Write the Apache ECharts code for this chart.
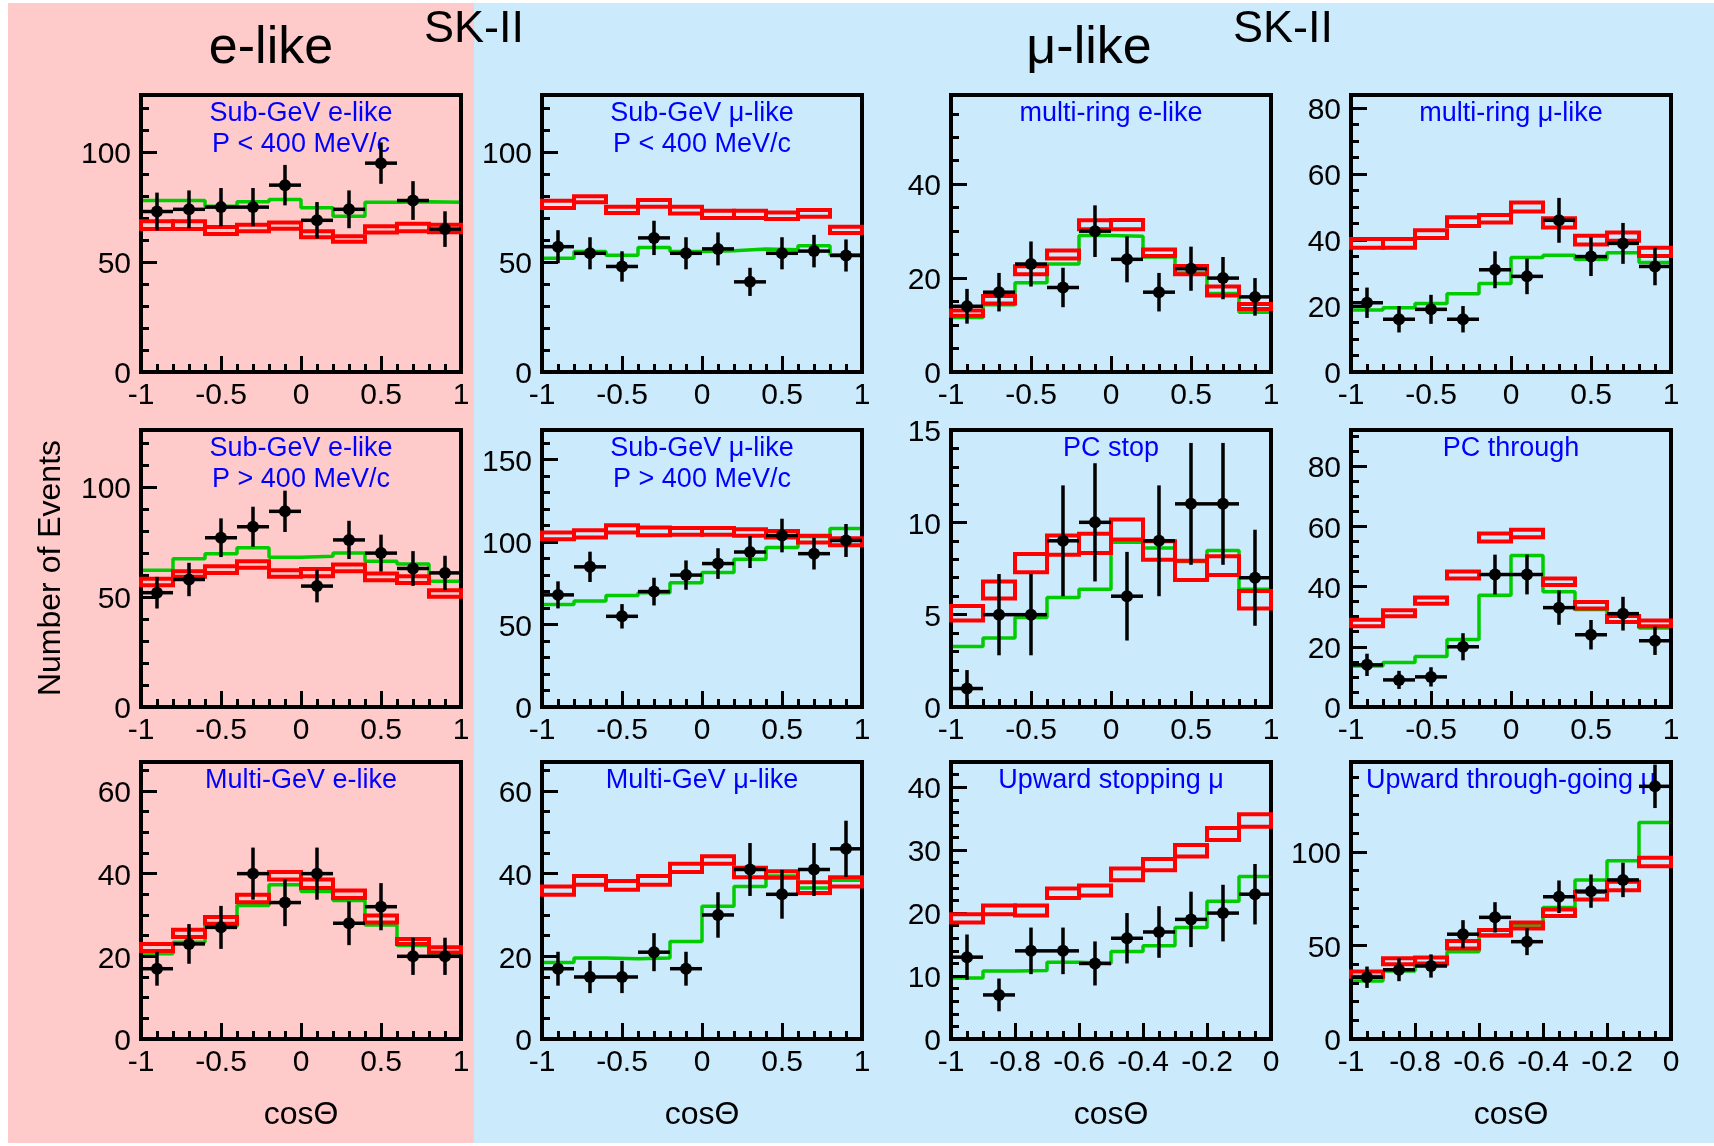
<!DOCTYPE html>
<html><head><meta charset="utf-8">
<script src="https://cdn.jsdelivr.net/npm/echarts@6/dist/echarts.min.js"></script>
<style>html,body{margin:0;padding:0;background:#fff}#c{width:1714px;height:1146px}</style>
</head><body><div id="c"></div>
<script>
// ---------- bins ----------
const edgesFull = [-1, -0.8, -0.6, -0.4, -0.2, 0, 0.2, 0.4, 0.6, 0.8, 1];
const centersFull = [-0.9, -0.7, -0.5, -0.3, -0.1, 0.1, 0.3, 0.5, 0.7, 0.9];
const edgesUp = [-1, -0.9, -0.8, -0.7, -0.6, -0.5, -0.4, -0.3, -0.2, -0.1, 0];
const centersUp = [-0.95, -0.85, -0.75, -0.65, -0.55, -0.45, -0.35, -0.25, -0.15, -0.05];

// ---------- Sub-GeV e-like P<400 ----------
const sgeLowData = [73, 74, 75, 75, 85, 69, 74, 95, 78, 65];
const sgeLowErr  = [8.6, 8.6, 8.7, 8.7, 9.2, 8.3, 8.6, 9.4, 8.8, 8.1];
const sgeLowFit  = [78, 78, 75.4, 77.4, 78.5, 74.7, 70.9, 77.2, 77.4, 77.2];
const sgeLowHi   = [68.6, 68.6, 65.9, 67, 68, 64, 61.8, 66.3, 67.4, 67];
const sgeLowLo   = [65.1, 65.1, 62.8, 64, 65.2, 61.3, 59.2, 63.4, 64, 63.6];
// ---------- Sub-GeV mu-like P<400 ----------
const sgmLowData = [57, 54, 48, 61, 54, 56, 41, 54, 55, 53];
const sgmLowErr  = [7.5, 7.3, 6.9, 7.8, 7.3, 7.5, 6.4, 7.3, 7.4, 7.3];
const sgmLowFit  = [51.7, 54.8, 53.1, 56.6, 54.8, 55.1, 55.9, 55.6, 57.4, 53.3];
const sgmLowHi   = [77.9, 79.9, 75.2, 78.2, 75.2, 73.4, 73.4, 72.6, 73.7, 66.1];
const sgmLowLo   = [74.6, 77.2, 72.3, 75.2, 72.1, 70, 70, 69.6, 70.6, 63.2];
// ---------- multi-ring e-like ----------
const mreData = [14, 17, 23, 18, 30, 24, 17, 22, 20, 16];
const mreErr  = [3.7, 4.1, 4.8, 4.2, 5.5, 4.9, 4.1, 4.7, 4.5, 4.0];
const mreFit  = [11.6, 14.3, 19, 23, 29.1, 28.9, 24.5, 21.1, 16.7, 12.7];
const mreHi   = [13.1, 16.2, 22.5, 25.9, 32.3, 32.4, 26.1, 22.6, 18.2, 14.5];
const mreLo   = [12.0, 14.6, 20.8, 24.2, 30.4, 30.4, 24.7, 20.8, 16.3, 13.4];
// ---------- multi-ring mu-like ----------
const mrmData = [21, 16, 19, 16, 31, 29, 46, 35, 39, 32];
const mrmErr  = [4.6, 4.0, 4.4, 4.0, 5.6, 5.4, 6.8, 5.9, 6.2, 5.7];
const mrmFit  = [18.8, 19.5, 20.8, 23.7, 26.8, 34.7, 35.4, 34.2, 36.2, 33.2];
const mrmHi   = [40.3, 40.3, 43, 46.9, 47.6, 51.4, 46.6, 41.3, 42.3, 37.7];
const mrmLo   = [37.7, 37.7, 40.6, 44.3, 45.3, 48.7, 43.8, 38.7, 39.8, 35.2];
// ---------- Sub-GeV e-like P>400 ----------
const sgeHighData = [52, 58, 77, 82, 89, 55, 76, 70, 63, 61];
const sgeHighErr  = [7.2, 7.6, 8.8, 9.1, 9.4, 7.4, 8.7, 8.4, 7.9, 7.8];
const sgeHighFit  = [62.2, 67.4, 69.7, 72.4, 68.1, 68.6, 70.1, 66.3, 65.1, 57.2];
const sgeHighHi   = [58.3, 61.8, 64, 66.3, 62.2, 62.8, 64.8, 60.7, 59.5, 53.1];
const sgeHighLo   = [55.4, 59.2, 61, 63.3, 59.2, 59.5, 61.8, 57.7, 56.4, 50.1];
// ---------- Sub-GeV mu-like P>400 ----------
const sgmHighData = [68, 85, 55, 70, 80, 87, 94, 104, 93, 101];
const sgmHighErr  = [8.2, 9.2, 7.4, 8.4, 8.9, 9.3, 9.7, 10.2, 9.6, 10.0];
const sgmHighFit  = [62.2, 64.3, 67.7, 69.3, 75.4, 81.5, 89.6, 96.7, 103.4, 108.3];
const sgmHighHi   = [105.8, 107.2, 110.3, 108.9, 108.5, 108.5, 107.8, 106.8, 103.8, 102.4];
const sgmHighLo   = [101.8, 102.8, 105.8, 104.2, 104.4, 104.4, 103.8, 102.8, 99.7, 98.1];
// ---------- PC stop ----------
const pcsData = [1, 5, 5, 9, 10, 6, 9, 11, 11, 7];
const pcsErr  = [1, 2.2, 2.2, 3, 3.2, 2.4, 3, 3.3, 3.3, 2.6];
const pcsFit  = [3.27, 3.74, 4.84, 5.93, 6.37, 8.92, 8.61, 7.88, 8.47, 6.37];
const pcsHi   = [5.47, 6.79, 8.28, 9.29, 9.38, 10.16, 8.98, 7.92, 8.16, 6.28];
const pcsLo   = [4.69, 5.88, 7.30, 8.25, 8.34, 9.07, 7.97, 6.88, 7.15, 5.33];
// ---------- PC through ----------
const pctData = [14, 9, 10, 20, 44, 44, 33, 24, 31, 22];
const pctErr  = [3.7, 3, 3.2, 4.5, 6.6, 6.6, 5.7, 4.9, 5.6, 4.7];
const pctFit  = [13.6, 14.8, 16.8, 22.4, 37.1, 50.3, 38.3, 32.4, 28.2, 26.2];
const pctHi   = [29, 32.1, 36.4, 45, 57.6, 58.9, 42.7, 34.9, 30.2, 28.7];
const pctLo   = [26.8, 30.1, 34.3, 42.7, 55, 56.4, 40.5, 32.7, 28.2, 26.8];
// ---------- Multi-GeV e-like ----------
const mgeData = [17, 23, 27, 40, 33, 40, 28, 32, 20, 20];
const mgeErr  = [4.1, 4.8, 5.2, 6.3, 5.7, 6.3, 5.3, 5.7, 4.5, 4.5];
const mgeFit  = [20.6, 23.4, 27.2, 32.3, 37.3, 35.7, 33.5, 27.6, 22.6, 20.6];
const mgeHi   = [23, 26.4, 29.5, 34.9, 40.4, 38.6, 35.9, 29.9, 24.2, 22.2];
const mgeLo   = [21.3, 24.7, 27.9, 33.1, 38.6, 36.5, 34.1, 28.2, 23, 20.9];
// ---------- Multi-GeV mu-like ----------
const mgmData = [17, 15, 15, 21, 17, 30, 41, 35, 41, 46];
const mgmErr  = [4.1, 3.9, 3.9, 4.6, 4.1, 5.5, 6.4, 5.9, 6.4, 6.8];
const mgmFit  = [18.5, 19.6, 19.4, 19.6, 23.6, 32.1, 36.9, 39.4, 36.5, 38.4];
const mgmHi   = [36.9, 39.4, 38.2, 39.4, 42.4, 44.2, 41.4, 40.6, 37.9, 39.1];
const mgmLo   = [34.9, 37.3, 36.1, 37.3, 40.4, 42.4, 39.1, 39, 35.3, 36.9];
// ---------- Upward stopping mu ----------
const usmData = [13, 7, 14, 14, 12, 16, 17, 19, 20, 23];
const usmErr  = [3.6, 2.6, 3.7, 3.7, 3.5, 4, 4.1, 4.4, 4.5, 4.8];
const usmFit  = [9.7, 10.8, 10.9, 12.2, 12, 13.9, 14.8, 17.7, 21.9, 25.8];
const usmHi   = [19.8, 21.2, 21.2, 23.9, 24.4, 27.1, 28.6, 30.8, 33.5, 35.7];
const usmLo   = [18.5, 19.8, 19.6, 22.4, 22.8, 25.2, 26.8, 29, 31.6, 33.7];
// ---------- Upward through-going mu ----------
const utmData = [33, 37, 39, 56, 65, 52, 76, 79, 85, 135];
const utmErr  = [5.7, 6.1, 6.2, 7.5, 8.1, 7.2, 8.7, 8.9, 9.2, 11.6];
const utmFit  = [31, 36.3, 39.5, 46.6, 55, 60.9, 70.3, 84.9, 95.2, 115.7];
const utmHi   = [36, 43.1, 43.6, 52.3, 58.2, 62.3, 69.2, 78.6, 84, 96.8];
const utmLo   = [33.3, 40, 40.4, 48.4, 55.5, 59.1, 65.7, 74.6, 79.5, 92.3];

// ---------- panel definitions (reading order) ----------
const panelTitles = [
  ['Sub-GeV e-like', 'P < 400 MeV/c'], ['Sub-GeV \u03bc-like', 'P < 400 MeV/c'], ['multi-ring e-like'], ['multi-ring \u03bc-like'],
  ['Sub-GeV e-like', 'P > 400 MeV/c'], ['Sub-GeV \u03bc-like', 'P > 400 MeV/c'], ['PC stop'], ['PC through'],
  ['Multi-GeV e-like'], ['Multi-GeV \u03bc-like'], ['Upward stopping \u03bc'], ['Upward through-going \u03bc']
];
const yMax      = [126, 126, 59, 84, 126, 168, 15, 92, 67, 67, 44, 148];
const yInterval = [50, 50, 20, 20, 50, 50, 5, 20, 20, 20, 10, 50];
const yMinorSplit = [5, 5, 4, 4, 5, 5, 5, 4, 4, 4, 5, 5];
const panelSets = [
  [sgeLowData, sgeLowErr, sgeLowFit, sgeLowHi, sgeLowLo],
  [sgmLowData, sgmLowErr, sgmLowFit, sgmLowHi, sgmLowLo],
  [mreData, mreErr, mreFit, mreHi, mreLo],
  [mrmData, mrmErr, mrmFit, mrmHi, mrmLo],
  [sgeHighData, sgeHighErr, sgeHighFit, sgeHighHi, sgeHighLo],
  [sgmHighData, sgmHighErr, sgmHighFit, sgmHighHi, sgmHighLo],
  [pcsData, pcsErr, pcsFit, pcsHi, pcsLo],
  [pctData, pctErr, pctFit, pctHi, pctLo],
  [mgeData, mgeErr, mgeFit, mgeHi, mgeLo],
  [mgmData, mgmErr, mgmFit, mgmHi, mgmLo],
  [usmData, usmErr, usmFit, usmHi, usmLo],
  [utmData, utmErr, utmFit, utmHi, utmLo]
];
const isUpward = [false, false, false, false, false, false, false, false, false, false, true, true];

// ---------- layout ----------
const colLeft = [141, 542, 951, 1351];
const rowTop = [95, 430, 762];
const PW = 320, PH = 277;
const FONT = '"Liberation Sans", Arial, Helvetica, sans-serif';

const grids = [], xAxes = [], yAxes = [], series = [], graphics = [];

graphics.push({type: 'rect', z: -100, shape: {x: 8, y: 3, width: 466, height: 1140}, style: {fill: '#ffcaca'}});
graphics.push({type: 'rect', z: -100, shape: {x: 474, y: 3, width: 1240, height: 1140}, style: {fill: '#cbeafc'}});

function txt(x, y, text, size, color, rot) {
  const g = {type: 'text', x: x, y: y, z: 1, style: {text: text, fontSize: size, fontFamily: FONT, fill: color, align: 'center', verticalAlign: 'middle'}};
  if (rot) g.rotation = rot;
  return g;
}
graphics.push(txt(271, 49, 'e-like', 52, '#000'));
graphics.push(txt(1089, 49, '\u03bc-like', 52, '#000'));
graphics.push(txt(474, 30, 'SK-II', 45, '#000'));
graphics.push(txt(1283, 30, 'SK-II', 45, '#000'));
graphics.push(txt(51, 568, 'Number of Events', 32, '#000', Math.PI / 2));

for (let i = 0; i < 12; i++) {
  const r = Math.floor(i / 4), c = i % 4;
  const left = colLeft[c], top = rowTop[r];
  grids.push({left: left, top: top, width: PW, height: PH, show: true, borderColor: '#000', borderWidth: 4, backgroundColor: 'transparent', containLabel: false, outerBoundsMode: 'none'});
  const up = isUpward[i];
  const edges = up ? edgesUp : edgesFull;
  const centers = up ? centersUp : centersFull;
  xAxes.push({
    type: 'value', gridIndex: i, position: 'bottom', min: -1, max: up ? 0 : 1, interval: up ? 0.2 : 0.5,
    axisLine: {show: false, onZero: false}, splitLine: {show: false}, minorSplitLine: {show: false},
    axisTick: {show: true, inside: true, length: 16, lineStyle: {color: '#000', width: 3}},
    minorTick: {show: true, splitNumber: up ? 4 : 5, length: 8, lineStyle: {color: '#000', width: 3}},
    axisLabel: {show: true, fontSize: 30, fontFamily: FONT, color: '#000', margin: 9, showMinLabel: true, showMaxLabel: true,
      formatter: v => String(Math.round(v * 100) / 100)}
  });
  yAxes.push({
    type: 'value', gridIndex: i, position: 'left', min: 0, max: yMax[i], interval: yInterval[i],
    axisLine: {show: false, onZero: false}, splitLine: {show: false}, minorSplitLine: {show: false},
    axisTick: {show: true, inside: true, length: 16, lineStyle: {color: '#000', width: 3}},
    minorTick: {show: true, splitNumber: yMinorSplit[i], length: 8, lineStyle: {color: '#000', width: 3}},
    axisLabel: {show: true, fontSize: 30, fontFamily: FONT, color: '#000', margin: 10, showMinLabel: true,
      verticalAlign: 'top', lineHeight: 6,
      formatter: v => (Math.abs(v / yInterval[i] - Math.round(v / yInterval[i])) < 1e-6 ? String(v) : '')}
  });
  const [dat, err, fit, hi, lo] = panelSets[i];
  // red no-oscillation boxes
  series.push({
    type: 'custom', xAxisIndex: i, yAxisIndex: i, silent: true, animation: false, z: 2,
    data: hi.map((h, k) => [edges[k], edges[k + 1], lo[k], h]),
    encode: {x: [0, 1], y: [2, 3]},
    renderItem: (params, api) => {
      const p0 = api.coord([api.value(0), api.value(3)]);
      const p1 = api.coord([api.value(1), api.value(2)]);
      return {type: 'rect', shape: {x: p0[0], y: p0[1], width: p1[0] - p0[0], height: p1[1] - p0[1]},
        style: {fill: 'transparent', stroke: '#ff0000', lineWidth: 4}};
    }
  });
  // green oscillation best fit histogram
  const stepData = [[edges[0], 0]];
  fit.forEach((v, k) => stepData.push([edges[k], v]));
  stepData.push([edges[edges.length - 1], fit[fit.length - 1]]);
  stepData.push([edges[edges.length - 1], 0]);
  series.push({
    type: 'line', xAxisIndex: i, yAxisIndex: i, step: 'end', data: stepData, symbol: 'none', silent: true,
    animation: false, z: -1, lineStyle: {color: '#00cc00', width: 3.5}
  });
  // data points with error bars
  series.push({
    type: 'custom', xAxisIndex: i, yAxisIndex: i, silent: true, animation: false, z: 4,
    data: dat.map((v, k) => [centers[k], v, err[k], (edges[k + 1] - edges[k]) / 2]),
    encode: {x: 0, y: 1},
    renderItem: (params, api) => {
      const x = api.value(0), y = api.value(1), e = api.value(2), hw = api.value(3);
      const cc = api.coord([x, y]);
      const l = api.coord([x - hw, y]), rr = api.coord([x + hw, y]);
      const t = api.coord([x, y + e]), b = api.coord([x, Math.max(0, y - e)]);
      return {type: 'group', children: [
        {type: 'line', shape: {x1: l[0], y1: l[1], x2: rr[0], y2: rr[1]}, style: {stroke: '#000', lineWidth: 3.5}},
        {type: 'line', shape: {x1: t[0], y1: t[1], x2: b[0], y2: b[1]}, style: {stroke: '#000', lineWidth: 3.5}},
        {type: 'circle', shape: {cx: cc[0], cy: cc[1], r: 6}, style: {fill: '#000'}}
      ]};
    }
  });
  // panel title
  const cx = left + PW / 2;
  const tt = panelTitles[i];
  const ty = top + 19;
  graphics.push(txt(cx, ty, tt[0], 27, '#0000ff'));
  if (tt[1]) graphics.push(txt(cx, ty + 31, tt[1], 27, '#0000ff'));
  if (r === 2) graphics.push(txt(cx, 1115, 'cos\u0398', 32, '#000'));
}

const chart = echarts.init(document.getElementById('c'), null, {renderer: 'canvas'});
chart.setOption({
  backgroundColor: '#ffffff',
  animation: false,
  grid: grids, xAxis: xAxes, yAxis: yAxes, series: series,
  graphic: {elements: graphics}
});
</script></body></html>
